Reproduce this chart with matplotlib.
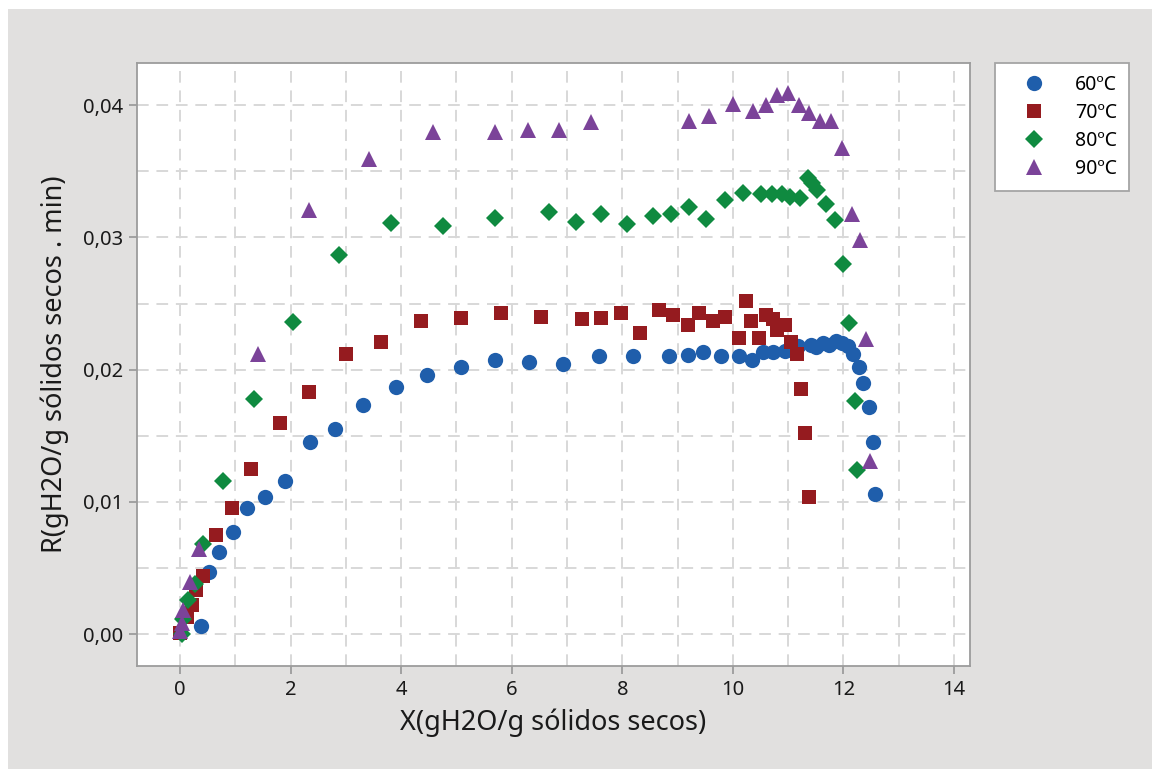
import matplotlib
matplotlib.use('Agg')
import matplotlib.pyplot as plt
from matplotlib.patches import Rectangle
from matplotlib.ticker import MultipleLocator, FuncFormatter

plt.rcParams['font.family'] = ['Noto Sans', 'DejaVu Sans']

# Drying rate R vs moisture content X at four temperatures
x_60 = [0.38, 0.53, 0.71, 0.96, 1.21, 1.54, 1.90, 2.35, 2.80, 3.31, 3.90, 4.47, 5.09,
        5.70, 6.31, 6.93, 7.58, 8.19, 8.85, 9.18, 9.46, 9.78, 10.11, 10.34, 10.55,
        10.73, 10.94, 11.18, 11.42, 11.51, 11.63, 11.74, 11.87, 11.97, 12.09, 12.18,
        12.28, 12.36, 12.46, 12.54, 12.57]
r_60 = [0.0006, 0.0047, 0.0062, 0.0077, 0.0095, 0.0104, 0.0116, 0.0145, 0.0155, 0.0173,
        0.0187, 0.0196, 0.0202, 0.0207, 0.0206, 0.0204, 0.0210, 0.0210, 0.0210, 0.0211,
        0.0213, 0.0210, 0.0210, 0.0207, 0.0213, 0.0213, 0.0214, 0.0218, 0.0219, 0.0217,
        0.0220, 0.0219, 0.0222, 0.0220, 0.0218, 0.0212, 0.0202, 0.0190, 0.0172, 0.0145,
        0.0106]

x_70 = [0.0, 0.12, 0.22, 0.28, 0.42, 0.65, 0.93, 1.28, 1.80, 2.34, 3.00, 3.64, 4.36,
        5.09, 5.80, 6.53, 7.27, 7.61, 7.97, 8.32, 8.67, 8.92, 9.18, 9.39, 9.64, 9.86,
        10.11, 10.23, 10.33, 10.48, 10.60, 10.72, 10.80, 10.95, 11.06, 11.16, 11.24,
        11.31, 11.38]
r_70 = [0.0001, 0.0013, 0.0022, 0.0033, 0.0044, 0.0075, 0.0095, 0.0125, 0.0160, 0.0183,
        0.0212, 0.0221, 0.0237, 0.0239, 0.0243, 0.0240, 0.0238, 0.0239, 0.0243, 0.0228,
        0.0245, 0.0241, 0.0234, 0.0243, 0.0237, 0.0240, 0.0224, 0.0252, 0.0237, 0.0224,
        0.0241, 0.0238, 0.0230, 0.0234, 0.0221, 0.0212, 0.0185, 0.0152, 0.0104]

x_80 = [0.03, 0.06, 0.14, 0.27, 0.42, 0.78, 1.33, 2.05, 2.88, 3.82, 4.76, 5.70, 6.67,
        7.16, 7.61, 8.08, 8.56, 8.88, 9.21, 9.52, 9.86, 10.19, 10.50, 10.70, 10.88,
        11.04, 11.21, 11.36, 11.44, 11.53, 11.69, 11.84, 11.99, 12.10, 12.21, 12.25]
r_80 = [0.0000, 0.0011, 0.0026, 0.0038, 0.0068, 0.0116, 0.0178, 0.0236, 0.0287, 0.0311,
        0.0309, 0.0315, 0.0319, 0.0312, 0.0318, 0.0310, 0.0316, 0.0318, 0.0323, 0.0314,
        0.0328, 0.0334, 0.0333, 0.0333, 0.0333, 0.0331, 0.0330, 0.0345, 0.0341, 0.0336,
        0.0325, 0.0313, 0.0280, 0.0235, 0.0176, 0.0124]

x_90 = [0.0, 0.03, 0.06, 0.18, 0.34, 1.40, 2.34, 3.42, 4.57, 5.70, 6.29, 6.85, 7.43,
        9.21, 9.57, 10.00, 10.37, 10.60, 10.79, 11.00, 11.20, 11.37, 11.57, 11.78,
        11.97, 12.15, 12.30, 12.41, 12.48]
r_90 = [0.0002, 0.0008, 0.0018, 0.0039, 0.0064, 0.0212, 0.0321, 0.0359, 0.0380, 0.0380,
        0.0381, 0.0381, 0.0387, 0.0388, 0.0392, 0.0401, 0.0396, 0.0400, 0.0408, 0.0409,
        0.0400, 0.0394, 0.0388, 0.0388, 0.0368, 0.0318, 0.0298, 0.0223, 0.0131]

series = [
    ('60ºC', x_60, r_60, 'o', '#1f5eab', 11),
    ('70ºC', x_70, r_70, 's', '#951b1f', 10.5),
    ('80ºC', x_80, r_80, 'D', '#0f8a40', 9.5),
    ('90ºC', x_90, r_90, '^', '#7b4399', 11.5),
]

fig = plt.figure(figsize=(11.52, 7.69), dpi=100)
fig.patch.set_facecolor('white')
fig.patches.append(Rectangle((8 / 1152, 0), 1, 1 - 9 / 769, transform=fig.transFigure,
                             facecolor='#e1e0df', edgecolor='none', zorder=-10))

ax = fig.add_axes([137 / 1152, 1 - 666 / 769, (970 - 137) / 1152, (666 - 63) / 769])
ax.set_facecolor('white')

handles = []
for label, xs, rs, mk, col, ms in series:
    h, = ax.plot(xs, rs, linestyle='none', marker=mk, color=col, markersize=ms,
                 markeredgewidth=0, label=label, zorder=3)
    handles.append(h)

ax.set_xlim(-0.78, 14.29)
ax.set_ylim(-0.00242, 0.0432)
ax.xaxis.set_major_locator(MultipleLocator(2))
ax.xaxis.set_minor_locator(MultipleLocator(1))
ax.yaxis.set_major_locator(MultipleLocator(0.01))
ax.yaxis.set_minor_locator(MultipleLocator(0.005))
ax.yaxis.set_major_formatter(FuncFormatter(lambda v, p: f'{v:.2f}'.replace('.', ',')))

ax.grid(which='both', color='#d8d8d8', linestyle=(0, (6, 4)), linewidth=1.4, zorder=0)
ax.set_axisbelow(True)

for sp in ax.spines.values():
    sp.set_color('#9c9c9c')
    sp.set_linewidth(1.3)
ax.tick_params(which='major', direction='out', length=6, width=1.3, color='#9c9c9c',
               labelsize=14.5, labelcolor='#1a1a1a', pad=4)
ax.tick_params(which='minor', length=0)

ax.set_xlabel('X(gH2O/g sólidos secos)', fontsize=19.5, color='#1a1a1a', labelpad=6)
ax.set_ylabel('R(gH2O/g sólidos secos . min)', fontsize=19.5, color='#1a1a1a', labelpad=10)

leg = fig.legend(handles=handles, loc='upper left', bbox_to_anchor=(995 / 1152, 1 - 63 / 769),
                 fontsize=14, frameon=True, fancybox=False, framealpha=1,
                 edgecolor='#a5a5a5', handlelength=2.8, handletextpad=0.7,
                 borderpad=0.6, labelspacing=0.42, borderaxespad=0)
leg.get_frame().set_linewidth(1.3)

fig.savefig('out.png', dpi=100)
